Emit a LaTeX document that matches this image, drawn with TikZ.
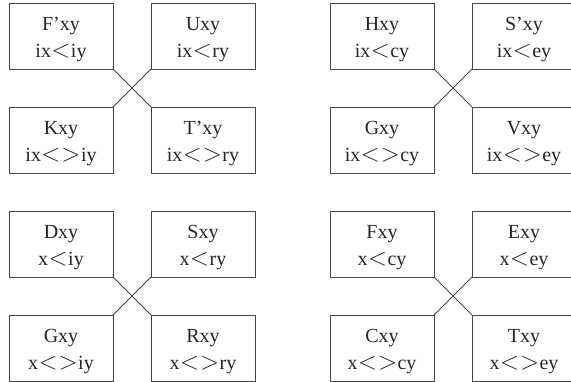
\documentclass[tikz,border=0pt]{standalone}
\usepackage{fontspec}
\setmainfont{Liberation Serif}
\newfontfamily\lmfont{Latin Modern Roman}
\usetikzlibrary{calc}
\newcommand\ltsym{\makebox[20pt]{\fontsize{25}{26}\lmfont <}}
\newcommand\gtsym{\makebox[20pt]{\fontsize{25}{26}\lmfont >}}
\newcommand\cell[5]{%
  \node[boxst] (#1) at (#2,#3) {};
  \node[txt] (#1a) at ($(#1.north)+(0,28)$) {#4};
  \node[txt] (#1b) at ($(#1.north)+(0,55)$) {#5};}
\begin{document}
\begin{tikzpicture}[x=1pt,y=-1pt,
  boxst/.style={draw=black!72, line width=0.8pt, rectangle, minimum width=104pt, minimum height=66pt, inner sep=0pt, outer sep=0pt, anchor=north west},
  txt/.style={font=\fontsize{20}{24}\selectfont, inner sep=0pt, anchor=base, text=black!85},
  link/.style={draw=black!72, line width=0.8pt}]
\useasboundingbox (0,0) rectangle (571,382);
\clip (0,0) rectangle (571,382);
% top-left group
\cell{a}{9}{3}{F’xy}{ix\ltsym iy}
\cell{b}{151}{3}{Uxy}{ix\ltsym ry}
\cell{c}{9}{107}{Kxy}{ix\ltsym\gtsym iy}
\cell{d}{151}{107}{T’xy}{ix\ltsym\gtsym ry}
\draw[link] (a.south east) -- (d.north west);
\draw[link] (b.south west) -- (c.north east);
% top-right group
\cell{e}{330}{3}{Hxy}{ix\ltsym cy}
\cell{f}{472}{3}{S’xy}{ix\ltsym ey}
\cell{g}{330}{107}{Gxy}{ix\ltsym\gtsym cy}
\cell{h}{472}{107}{Vxy}{ix\ltsym\gtsym ey}
\draw[link] (e.south east) -- (h.north west);
\draw[link] (f.south west) -- (g.north east);
% bottom-left group
\cell{i}{9}{211}{Dxy}{x\ltsym iy}
\cell{j}{151}{211}{Sxy}{x\ltsym ry}
\cell{k}{9}{315}{Gxy}{x\ltsym\gtsym iy}
\cell{l}{151}{315}{Rxy}{x\ltsym\gtsym ry}
\draw[link] (i.south east) -- (l.north west);
\draw[link] (j.south west) -- (k.north east);
% bottom-right group
\cell{m}{330}{211}{Fxy}{x\ltsym cy}
\cell{n}{472}{211}{Exy}{x\ltsym ey}
\cell{o}{330}{315}{Cxy}{x\ltsym\gtsym cy}
\cell{p}{472}{315}{Txy}{x\ltsym\gtsym ey}
\draw[link] (m.south east) -- (p.north west);
\draw[link] (n.south west) -- (o.north east);
\end{tikzpicture}
\end{document}
